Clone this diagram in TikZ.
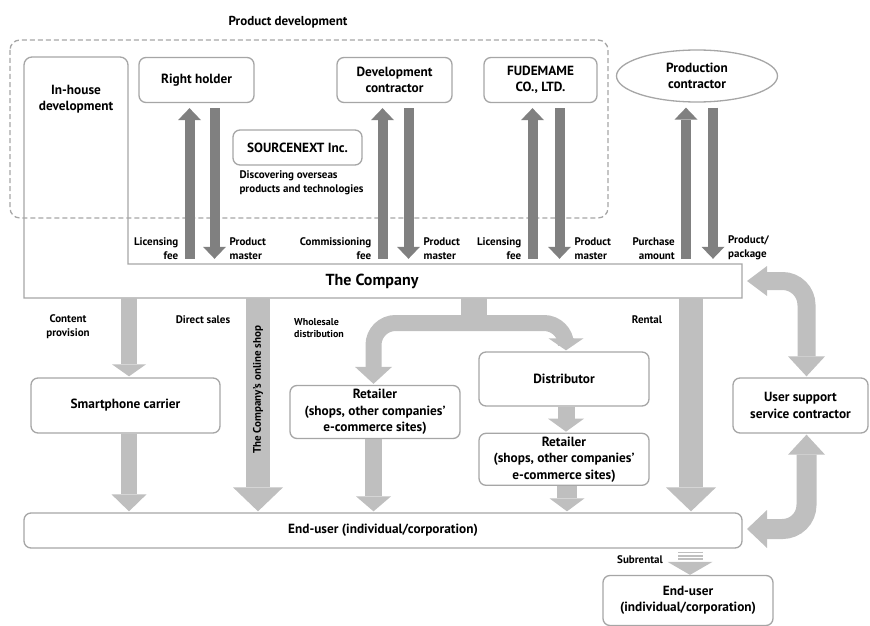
\documentclass[tikz,border=0pt]{standalone}
\usepackage{fontspec}
\setmainfont{PT Sans}
\usetikzlibrary{arrows.meta,positioning,shapes.geometric,calc}
\definecolor{bline}{HTML}{A6A6A6}
\definecolor{dflow}{HTML}{808080}
\definecolor{lflow}{HTML}{BFBFBF}
\newcommand\boxfont{\bfseries\fontsize{13.3}{16.5}\selectfont}
\newcommand\lblfont{\bfseries\fontsize{11}{14}\selectfont}

\begin{document}
\begin{tikzpicture}[x=1pt,y=-1pt,
  font=\boxfont,
  box/.style={draw=bline,line width=1.3pt,rounded corners=7pt,fill=white,
              align=center,inner sep=2pt},
  lbl/.style={font=\lblfont,inner sep=0pt},
  dk/.style={draw=dflow,line width=10pt,
             -{Triangle[length=12pt,width=23pt,line width=0pt]}},
  lt/.style={draw=lflow,line width=16pt,
             -{Triangle[length=12pt,width=34pt,line width=0pt]}}]
  \useasboundingbox (0,0) rectangle (870,626);

  % product development frame
  \node[font=\bfseries\fontsize{13}{16}\selectfont] (pdtitle) at (288,22) {Product development};
  \draw[draw=bline,line width=1.3pt,dash pattern=on 5pt off 3pt,rounded corners=10pt]
    (10,40) rectangle (608,218);

  % company + in-house outline
  \draw[draw=bline,line width=1.3pt] (24,298) [rounded corners=8pt] -- (24,57) -- (128,57)
    -- (128,120) [sharp corners] -- (128,264) -- (742,264) -- (742,298) -- cycle;
  \node[align=center] (inhouse) at (76,99) {In-house\\development};
  \node[font=\bfseries\fontsize{16}{18}\selectfont,minimum height=34pt,inner sep=0pt]
    (company) at (372,281) {The Company};

  % suppliers
  \node[box,minimum width=115pt,minimum height=45pt] (rholder) at (196.5,80) {Right holder};
  \node[box,minimum width=115pt,minimum height=45pt] (devcon) at (394.5,80) {Development\\contractor};
  \node[box,minimum width=113pt,minimum height=45pt] (fude) at (540.5,80) {FUDEMAME\\CO., LTD.};
  \node[box,ellipse,minimum width=161pt,minimum height=52pt] (prodcon) at (697,76) {Production\\contractor};
  \node[box,minimum width=129pt,minimum height=35pt] (srcnext) at (297.5,147.5) {SOURCENEXT Inc.};
  \node[lbl,align=left,anchor=north west] (discover) at ($(srcnext.south west)+(7,5)$)
    {Discovering overseas\\products and technologies};

  \foreach \n/\u/\d/\ul/\dl in {rholder/-7/18/{Licensing\\fee}/{Product\\master},
      devcon/-12/14/{Commissioning\\fee}/{Product\\master},
      fude/-8/19/{Licensing\\fee}/{Product\\master},
      prodcon/-11/16/{Purchase\\amount}/{Product/\\package}}{
    \draw[dk] ($(\n.south |- company.north)+(\u,-5)$) -- ($(\n.south)+(\u,5)$);
    \draw[dk] ($(\n.south)+(\d,5)$) -- ($(\n.south |- company.north)+(\d,-5)$);
    \node[lbl,align=right,anchor=south east] at ($(\n.south |- company.north)+(\u-11,-4)$) {\ul};
    \node[lbl,align=left,anchor=south west] at ($(\n.south |- company.north)+(\d+15,-4)$) {\dl};
  }

  % sales side
  \node[box,minimum width=189pt,minimum height=55pt] (smart) at (125.5,405.5) {Smartphone carrier};
  \node[box,minimum width=170pt,minimum height=53pt] (retail1) at (375,412)
    {Retailer\\(shops, other companies’\\e-commerce sites)};
  \node[box,minimum width=170pt,minimum height=54pt] (distrib) at (564,379) {Distributor};
  \node[box,minimum width=170pt,minimum height=52pt,below=26pt of distrib] (retail2)
    {Retailer\\(shops, other companies’\\e-commerce sites)};
  \node[box,minimum width=135pt,minimum height=55pt] (usersup) at (800.5,405.5)
    {User support\\service contractor};
  \node[box,minimum width=718pt,minimum height=35pt] (enduser) at (383,530.5)
    {End-user (individual/corporation)};
  \node[box,minimum width=170pt,minimum height=50pt] (enduser2) at (688,600.5)
    {End-user\\(individual/corporation)};

  \coordinate (shoptop) at (258,298);
  \coordinate (stem) at (474,298);
  \coordinate (rentaltop) at (691,298);
  \coordinate (csup) at (747,281);
  \coordinate (esup) at (747,529);

  \node[lbl,align=center] (contlbl) at (68,327) {Content\\provision};
  \node[lbl] (directlbl) at (203,320) {Direct sales};
  \node[lbl,font=\bfseries\fontsize{10}{12}\selectfont,align=left,anchor=west] (wholelbl)
    at (294,328) {Wholesale\\distribution};
  \node[lbl] (rentlbl) at (647,320) {Rental};
  \node[lbl,anchor=east] (sublbl) at (663,560) {Subrental};

  \draw[lt] ($(smart.north |- company.south)+(3.5,0)$) -- ($(smart.north)+(3.5,-1)$);
  \draw[lt,-{Triangle[length=17pt,width=35pt,line width=0pt]}]
    ($(smart.south)+(3.5,0)$) -- ($(smart.south |- enduser.north)+(3.5,-1)$);
  \draw[lt,line width=24pt,-{Triangle[length=24pt,width=50pt,line width=0pt]}]
    (shoptop) -- ($(shoptop |- enduser.north)+(0,-1)$)
    node[lbl,rotate=90,pos=.43] (shoplbl) {The Company’s online shop};
  \draw[lt,line width=17pt,-{Triangle[length=15pt,width=35pt,line width=0pt]}]
    ($(retail1.south)+(-1.5,0)$) -- ($(retail1.south |- enduser.north)+(-1.5,-1)$);
  \draw[lt,line width=26pt,-] (stem) -- ++(0,26);
  \draw[lt,line width=16pt,rounded corners=22pt,
        {Triangle[length=17pt,width=37pt,line width=0pt]}-{Triangle[length=12pt,width=35pt,line width=0pt]}]
    ($(retail1.north)+(-1.5,-1)$) |- ($(stem)+(0,25)$) -| ($(distrib.north)+(2,-1)$);
  \draw[lt,line width=17pt,-{Triangle[length=13pt,width=36pt,line width=0pt]}]
    ($(distrib.south)+(2,0)$) -- ($(retail2.north)+(2,-1)$);
  \draw[lt,line width=20pt,-{Triangle[length=13pt,width=35pt,line width=0pt]}]
    ($(retail2.south)+(3,0)$) -- ($(retail2.south |- enduser.north)+(3,-1)$);
  \draw[lt,line width=24pt,-{Triangle[length=24pt,width=50pt,line width=0pt]}]
    (rentaltop) -- ($(rentaltop |- enduser.north)+(0,-1)$);

  % user support loop
  \draw[lt,line width=18pt,rounded corners=24pt,
        {Triangle[length=20pt,width=30pt,line width=0pt]}-{Triangle[length=20pt,width=37pt,line width=0pt]}]
    (csup) -| ($(usersup.north)+(6,-1)$);
  \draw[lt,line width=20pt,rounded corners=24pt,
        {Triangle[length=20pt,width=37pt,line width=0pt]}-{Triangle[length=20pt,width=38pt,line width=0pt]}]
    ($(usersup.south)+(6,1)$) |- (esup);

  % subrental
  \draw[lt,line width=25pt,dash pattern=on 1.7pt off 1.7pt,
        -{Triangle[length=13pt,width=45pt,line width=0pt]}]
    ($(enduser.south -| enduser2.north)+(2,3)$) -- ($(enduser2.north)+(2,0)$);
\end{tikzpicture}
\end{document}
